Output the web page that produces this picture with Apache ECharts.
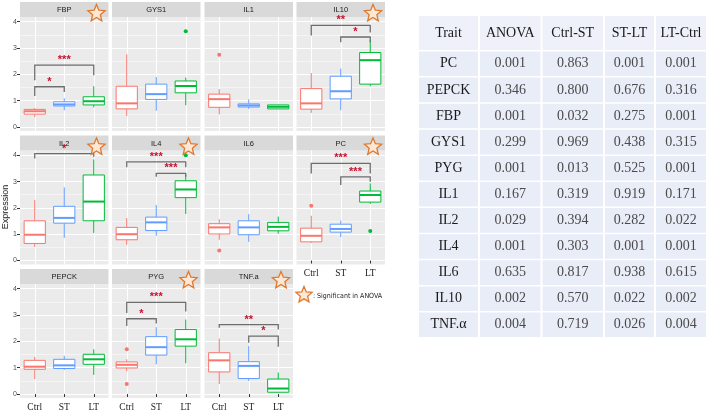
<!DOCTYPE html>
<html><head><meta charset="utf-8">
<script src="https://cdn.jsdelivr.net/npm/echarts@6/dist/echarts.min.js"></script>
<style>html,body{margin:0;padding:0;background:#fff}#c{width:708px;height:416px}</style>
</head><body><div id="c"></div>
<script>
const groups = ['Ctrl', 'ST', 'LT'];
const genes = ['FBP', 'GYS1', 'IL1', 'IL10', 'IL2', 'IL4', 'IL6', 'PC', 'PEPCK', 'PYG', 'TNF.a'];
// [min, Q1, median, Q3, max] for Ctrl, ST, LT
const boxFBP   = [[0.38, 0.49, 0.60, 0.67, 0.72], [0.64, 0.80, 0.86, 0.96, 1.09], [0.75, 0.84, 0.98, 1.15, 1.55]];
const boxGYS1  = [[0.42, 0.69, 0.90, 1.55, 2.76], [0.62, 1.05, 1.25, 1.63, 1.90], [0.83, 1.30, 1.56, 1.75, 1.88]];
const boxIL1   = [[0.48, 0.75, 1.06, 1.25, 1.44], [0.69, 0.76, 0.82, 0.88, 1.05], [0.68, 0.69, 0.77, 0.84, 0.85]];
const boxIL10  = [[0.54, 0.68, 0.90, 1.46, 2.05], [0.64, 1.07, 1.36, 1.93, 2.22], [1.55, 1.63, 2.54, 2.83, 3.30]];
const boxIL2   = [[0.52, 0.65, 0.98, 1.51, 2.30], [0.86, 1.42, 1.62, 2.06, 2.78], [1.05, 1.51, 2.24, 3.25, 3.84]];
const boxIL4   = [[0.60, 0.79, 1.00, 1.26, 1.61], [0.94, 1.14, 1.45, 1.65, 2.11], [1.77, 2.39, 2.70, 3.03, 3.25]];
const boxIL6   = [[0.79, 1.01, 1.26, 1.40, 1.57], [0.71, 0.98, 1.26, 1.51, 1.76], [1.02, 1.13, 1.28, 1.45, 1.67]];
const boxPC    = [[0.67, 0.71, 0.94, 1.23, 1.70], [0.89, 1.08, 1.20, 1.38, 1.52], [2.15, 2.22, 2.49, 2.64, 2.93]];
const boxPEPCK = [[0.57, 0.94, 1.04, 1.28, 1.41], [0.92, 0.97, 1.09, 1.32, 1.45], [0.73, 1.13, 1.32, 1.51, 1.70]];
const boxPYG   = [[0.87, 0.99, 1.11, 1.22, 1.32], [1.13, 1.48, 1.78, 2.18, 2.54], [1.17, 1.82, 2.08, 2.45, 2.83]];
const boxTNFa  = [[0.38, 0.84, 1.28, 1.57, 2.11], [0.50, 0.59, 1.07, 1.23, 1.82], [0.05, 0.07, 0.21, 0.57, 0.82]];
// [gene, group, value]
const outliers = [
  ['GYS1', 'LT', 3.64], ['IL1', 'Ctrl', 2.75], ['IL4', 'LT', 4.00], ['IL6', 'Ctrl', 0.38],
  ['PC', 'Ctrl', 2.08], ['PC', 'LT', 1.12], ['PYG', 'Ctrl', 1.70], ['PYG', 'Ctrl', 0.38]
];
// [gene, from, to, bracket height, left tip, right tip, label]
const brackets = [
  ['FBP', 'Ctrl', 'ST', 1.53, 1.18, 1.33, '*'],
  ['FBP', 'Ctrl', 'LT', 2.35, 1.78, 1.97, '***'],
  ['IL10', 'Ctrl', 'LT', 3.86, 3.48, 3.59, '**'],
  ['IL10', 'ST', 'LT', 3.42, 3.22, 3.22, '*'],
  ['IL2', 'Ctrl', 'LT', 4.06, 3.88, 3.94, '*'],
  ['IL4', 'Ctrl', 'LT', 3.75, 3.54, 3.54, '***'],
  ['IL4', 'ST', 'LT', 3.31, 3.18, 3.18, '***'],
  ['PC', 'Ctrl', 'LT', 3.69, 3.31, 3.31, '***'],
  ['PC', 'ST', 'LT', 3.18, 2.87, 2.99, '***'],
  ['PYG', 'Ctrl', 'LT', 3.48, 3.08, 3.14, '***'],
  ['PYG', 'Ctrl', 'ST', 2.86, 2.58, 2.68, '*'],
  ['TNF.a', 'Ctrl', 'LT', 2.64, 2.52, 2.45, '**'],
  ['TNF.a', 'ST', 'LT', 2.20, 1.95, 1.80, '*']
];
const anovaSignificant = ['FBP', 'IL10', 'IL2', 'IL4', 'PC', 'PYG', 'TNF.a'];
const yTicks = [0, 1, 2, 3, 4];
const yMinorTicks = [0.5, 1.5, 2.5, 3.5];

const tableHeader = ['Trait', 'ANOVA', 'Ctrl-ST', 'ST-LT', 'LT-Ctrl'];
const tableTraits = ['PC', 'PEPCK', 'FBP', 'GYS1', 'PYG', 'IL1', 'IL2', 'IL4', 'IL6', 'IL10', 'TNF.α'];
const pANOVA  = ['0.001', '0.346', '0.001', '0.299', '0.001', '0.167', '0.029', '0.001', '0.635', '0.002', '0.004'];
const pCtrlST = ['0.863', '0.800', '0.032', '0.969', '0.013', '0.319', '0.394', '0.303', '0.817', '0.570', '0.719'];
const pSTLT   = ['0.001', '0.676', '0.275', '0.438', '0.525', '0.919', '0.282', '0.001', '0.938', '0.022', '0.026'];
const pLTCtrl = ['0.001', '0.316', '0.001', '0.315', '0.001', '0.171', '0.022', '0.001', '0.615', '0.002', '0.004'];

const boxStats = [boxFBP, boxGYS1, boxIL1, boxIL10, boxIL2, boxIL4, boxIL6, boxPC, boxPEPCK, boxPYG, boxTNFa];

// layout
const colLeft = [20, 112, 204.5, 296.5], panelW = 88.5;
const rowTop = [17, 150.5, 284], panelH = 114, stripH = 15;
const yMin = -0.15, yMax = 4.18;
const colors = ['#F8766D', '#619CFF', '#00BA38'];
const sigColor = '#C8102E';

function starPoints(cx, cy, R, r) {
  const pts = [];
  for (let i = 0; i < 10; i++) {
    const a = -Math.PI / 2 + i * Math.PI / 5;
    const rad = i % 2 === 0 ? R : r;
    pts.push([cx + rad * Math.cos(a), cy + rad * Math.sin(a)]);
  }
  return pts;
}
function starGraphic(cx, cy, R) {
  return { type: 'polygon', z: 100, shape: { points: starPoints(cx, cy, R, R * 0.45) },
    style: { fill: '#FDE8D6', stroke: '#E0782E', lineWidth: 1.3, lineJoin: 'miter' } };
}

function renderBox(params, api) {
  const i = api.value(0);
  const c = colors[i];
  const pMin = api.coord([i, api.value(1)]);
  const pQ1 = api.coord([i, api.value(2)]);
  const pMed = api.coord([i, api.value(3)]);
  const pQ3 = api.coord([i, api.value(4)]);
  const pMax = api.coord([i, api.value(5)]);
  const w = api.size([1, 0])[0] * 0.72;
  const x = pMed[0];
  return { type: 'group', children: [
    { type: 'line', shape: { x1: x, y1: pMin[1], x2: x, y2: pQ1[1] }, style: { stroke: c, lineWidth: 1 } },
    { type: 'line', shape: { x1: x, y1: pQ3[1], x2: x, y2: pMax[1] }, style: { stroke: c, lineWidth: 1 } },
    { type: 'rect', shape: { x: x - w / 2, y: pQ3[1], width: w, height: pQ1[1] - pQ3[1] }, style: { fill: '#fff', stroke: c, lineWidth: 1 } },
    { type: 'line', shape: { x1: x - w / 2, y1: pMed[1], x2: x + w / 2, y2: pMed[1] }, style: { stroke: c, lineWidth: 2 } }
  ] };
}

const grid = [], xAxis = [], yAxis = [], series = [], graphic = [];
genes.forEach((g, k) => {
  const r = Math.floor(k / 4), c = k % 4;
  const isBottom = k + 4 >= genes.length;
  grid.push({ left: colLeft[c], top: rowTop[r], width: panelW, height: panelH, show: true,
    backgroundColor: '#EBEBEB', borderWidth: 0 });
  xAxis.push({ type: 'category', gridIndex: k, data: groups, boundaryGap: true,
    axisLine: { show: false },
    axisTick: { show: isBottom, alignWithLabel: true, length: 3, lineStyle: { color: '#333', width: 1 } },
    axisLabel: { show: isBottom, fontFamily: 'Liberation Serif', fontSize: 9.5, color: '#222', margin: 4 },
    splitLine: { show: true, alignWithLabel: true, lineStyle: { color: '#fff', width: 1 } } });
  yAxis.push({ type: 'value', gridIndex: k, min: yMin, max: yMax,
    axisLine: { show: false },
    axisTick: { show: c === 0, customValues: yTicks, length: 3, lineStyle: { color: '#333', width: 1 } },
    axisLabel: { show: c === 0, customValues: yTicks, fontFamily: 'Liberation Sans', fontSize: 7, color: '#4D4D4D', margin: 3 },
    splitLine: { show: true, lineStyle: { color: '#fff', width: 1 } } });
  yAxis.push({ type: 'value', gridIndex: k, min: yMin, max: yMax, position: 'left',
    axisLine: { show: false },
    axisTick: { show: false, customValues: yMinorTicks },
    axisLabel: { show: false },
    splitLine: { show: true, lineStyle: { color: '#fff', width: 0.5 } } });

  series.push({ type: 'custom', xAxisIndex: k, yAxisIndex: 2 * k, renderItem: renderBox,
    encode: { x: 0, y: [1, 2, 3, 4, 5] },
    data: boxStats[k].map((b, i) => [i].concat(b)), z: 3 });

  const outs = outliers.filter(o => o[0] === g).map(o => [groups.indexOf(o[1]), o[2]]);
  if (outs.length) {
    series.push({ type: 'scatter', xAxisIndex: k, yAxisIndex: 2 * k, symbolSize: 4, z: 4,
      data: outs, itemStyle: { color: p => colors[p.value[0]], opacity: 1 } });
  }

  const brs = brackets.filter(b => b[0] === g);
  if (brs.length) {
    const labels = brs.map(b => b[6]);
    series.push({ type: 'custom', xAxisIndex: k, yAxisIndex: 2 * k, z: 5, clip: false,
      encode: { x: [0, 1], y: [2, 3, 4] },
      data: brs.map(b => [groups.indexOf(b[1]), groups.indexOf(b[2]), b[3], b[4], b[5]]),
      renderItem: function (params, api) {
        const a = api.coord([api.value(0), api.value(2)]);
        const b = api.coord([api.value(1), api.value(2)]);
        const ta = api.coord([api.value(0), api.value(3)]);
        const tb = api.coord([api.value(1), api.value(4)]);
        return { type: 'group', children: [
          { type: 'polyline', shape: { points: [ta, a, b, tb] }, style: { stroke: '#6E6E6E', lineWidth: 1.3, fill: null } },
          { type: 'text', x: (a[0] + b[0]) / 2, y: a[1] - 5,
            style: { text: labels[params.dataIndex], fill: sigColor, fontSize: 11, fontWeight: 'bold',
              fontFamily: 'Liberation Sans', align: 'center', verticalAlign: 'middle' } }
        ] };
      } });
  }

  // facet strip
  const sx = colLeft[c], sy = rowTop[r] - stripH;
  graphic.push({ type: 'rect', shape: { x: sx, y: sy, width: panelW, height: stripH }, style: { fill: '#D9D9D9' } });
  graphic.push({ type: 'text', x: sx + panelW / 2, y: sy + stripH / 2 + 0.5,
    style: { text: g, fontSize: 7.5, fontFamily: 'Liberation Sans', fill: '#1A1A1A', align: 'center', verticalAlign: 'middle' } });
  if (anovaSignificant.includes(g)) {
    graphic.push(starGraphic(sx + panelW - 12, sy + 11.5, 9));
  }
});

// legend for ANOVA star
graphic.push(starGraphic(304, 295, 8.5));
graphic.push({ type: 'text', x: 313, y: 296, z: 100,
  style: { text: ': Significant in ANOVA', fontSize: 7, fontFamily: "'DejaVu Sans Condensed', 'Liberation Sans', sans-serif", fill: '#222', align: 'left', verticalAlign: 'middle' } });

// y axis title
graphic.push({ type: 'text', x: 6, y: 207, rotation: Math.PI / 2,
  style: { text: 'Expression', fontSize: 9, fontFamily: 'Liberation Sans', fill: '#1A1A1A', align: 'center', verticalAlign: 'middle' } });

// table
const colEdges = [418, 479, 541.5, 604, 655, 707];
const headTop = 16, headH = 34, rowH = 26.1;
const tableCols = [tableTraits, pANOVA, pCtrlST, pSTLT, pLTCtrl];
for (let j = 0; j < 5; j++) {
  const x0 = colEdges[j], x1 = colEdges[j + 1];
  graphic.push({ type: 'rect', shape: { x: x0 + 1, y: headTop, width: x1 - x0 - 2, height: headH }, style: { fill: '#EEF1FA' } });
  graphic.push({ type: 'text', x: (x0 + x1) / 2, y: headTop + headH / 2,
    style: { text: tableHeader[j], fontSize: 14, fontFamily: 'Liberation Serif', fill: '#1A1A1A', align: 'center', verticalAlign: 'middle' } });
  for (let i = 0; i < tableTraits.length; i++) {
    const y0 = headTop + headH + 1.5 + i * rowH;
    graphic.push({ type: 'rect', shape: { x: x0 + 1, y: y0, width: x1 - x0 - 2, height: rowH - 1.5 }, style: { fill: '#E9EDF8' } });
    graphic.push({ type: 'text', x: (x0 + x1) / 2, y: y0 + (rowH - 1.5) / 2,
      style: { text: tableCols[j][i], fontSize: 14, fontFamily: 'Liberation Serif', fill: j === 0 ? '#1A1A1A' : '#4A4A4A', align: 'center', verticalAlign: 'middle' } });
  }
}

const chart = echarts.init(document.getElementById('c'), null, { renderer: 'canvas' });
chart.setOption({ animation: false, backgroundColor: '#fff', grid, xAxis, yAxis, series, graphic });
</script></body></html>
